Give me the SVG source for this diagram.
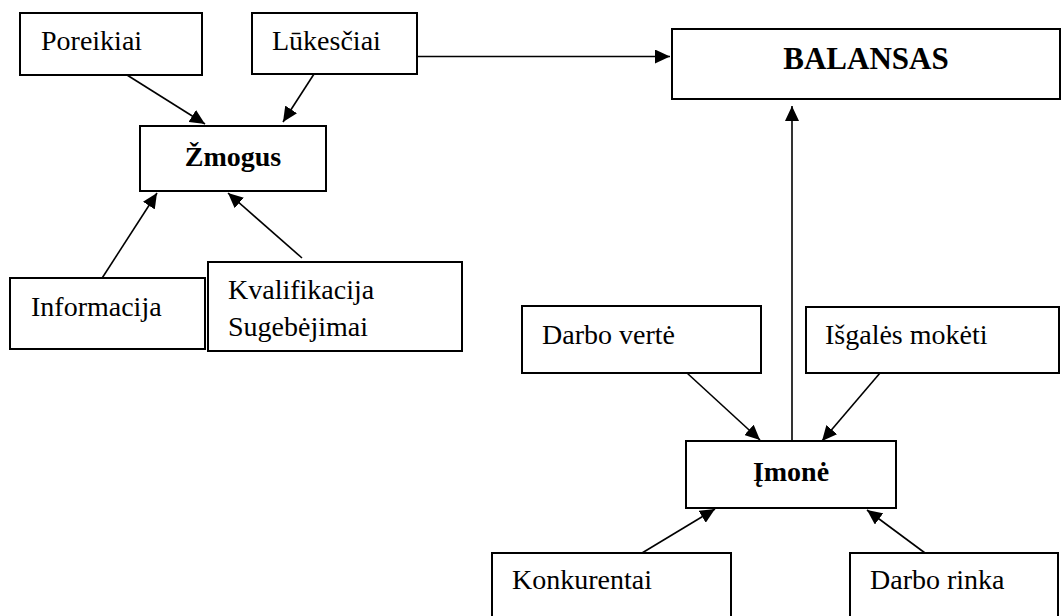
<svg xmlns="http://www.w3.org/2000/svg" width="1061" height="616" viewBox="0 0 1061 616">
<style>
.box{fill:#fff;stroke:#000;stroke-width:2}
.t{font-family:"Liberation Serif","Times New Roman",serif;font-size:28px;fill:#000}
.b{font-weight:bold}
.c{stroke:#000;stroke-width:1.6;fill:none;marker-end:url(#ah)}
</style>
<defs>
<marker id="ah" markerUnits="userSpaceOnUse" markerWidth="16" markerHeight="14" refX="15" refY="7" orient="auto" viewBox="0 0 16 14">
<path d="M0,0 L15,7 L0,14 z" fill="#000"/>
</marker>
</defs>
<rect width="1061" height="616" fill="#fff"/>
<g id="connectors">
<line class="c" x1="127" y1="75" x2="205" y2="124"/>
<line class="c" x1="314" y1="74" x2="283" y2="122"/>
<line class="c" x1="97" y1="286" x2="157" y2="193"/>
<line class="c" x1="302" y1="258" x2="228" y2="193"/>
<line class="c" x1="418" y1="56.5" x2="670" y2="56.5"/>
<line class="c" x1="792" y1="441" x2="792" y2="106"/>
<line class="c" x1="687" y1="373" x2="760" y2="440"/>
<line class="c" x1="880" y1="373" x2="822" y2="441"/>
<line class="c" x1="642" y1="553" x2="715" y2="509"/>
<line class="c" x1="925" y1="553" x2="867" y2="510"/>
</g>
<g id="poreikiai"><rect class="box" x="20" y="13" width="182" height="62"/><text class="t" x="41" y="50">Poreikiai</text></g>
<g id="lukesciai"><rect class="box" x="252" y="13" width="165" height="61"/><text class="t" x="272" y="50">Lūkesčiai</text></g>
<g id="zmogus"><rect class="box" x="140" y="126" width="186" height="65"/><text class="t b" x="233" y="166" text-anchor="middle">Žmogus</text></g>
<g id="informacija"><rect class="box" x="10" y="278" width="195" height="71"/><text class="t" x="31" y="316">Informacija</text></g>
<g id="kvalifikacija"><rect class="box" x="208" y="262" width="254" height="89"/><text class="t" x="228" y="299">Kvalifikacija</text><text class="t" x="228" y="336">Sugebėjimai</text></g>
<g id="balansas"><rect class="box" x="672" y="29" width="388" height="70"/><text class="t b" x="866" y="69" text-anchor="middle" style="font-size:31px">BALANSAS</text></g>
<g id="darbo-verte"><rect class="box" x="522" y="306" width="239" height="67"/><text class="t" x="542" y="344">Darbo vertė</text></g>
<g id="isgales"><rect class="box" x="806" y="307" width="253" height="66"/><text class="t" x="825" y="344">Išgalės mokėti</text></g>
<g id="imone"><rect class="box" x="686" y="441" width="210" height="67"/><text class="t b" x="791" y="481" text-anchor="middle">Įmonė</text></g>
<g id="konkurentai"><rect class="box" x="492" y="553" width="239" height="70"/><text class="t" x="512" y="589">Konkurentai</text></g>
<g id="darbo-rinka"><rect class="box" x="850" y="553" width="208" height="70"/><text class="t" x="870" y="589">Darbo rinka</text></g>
</svg>
